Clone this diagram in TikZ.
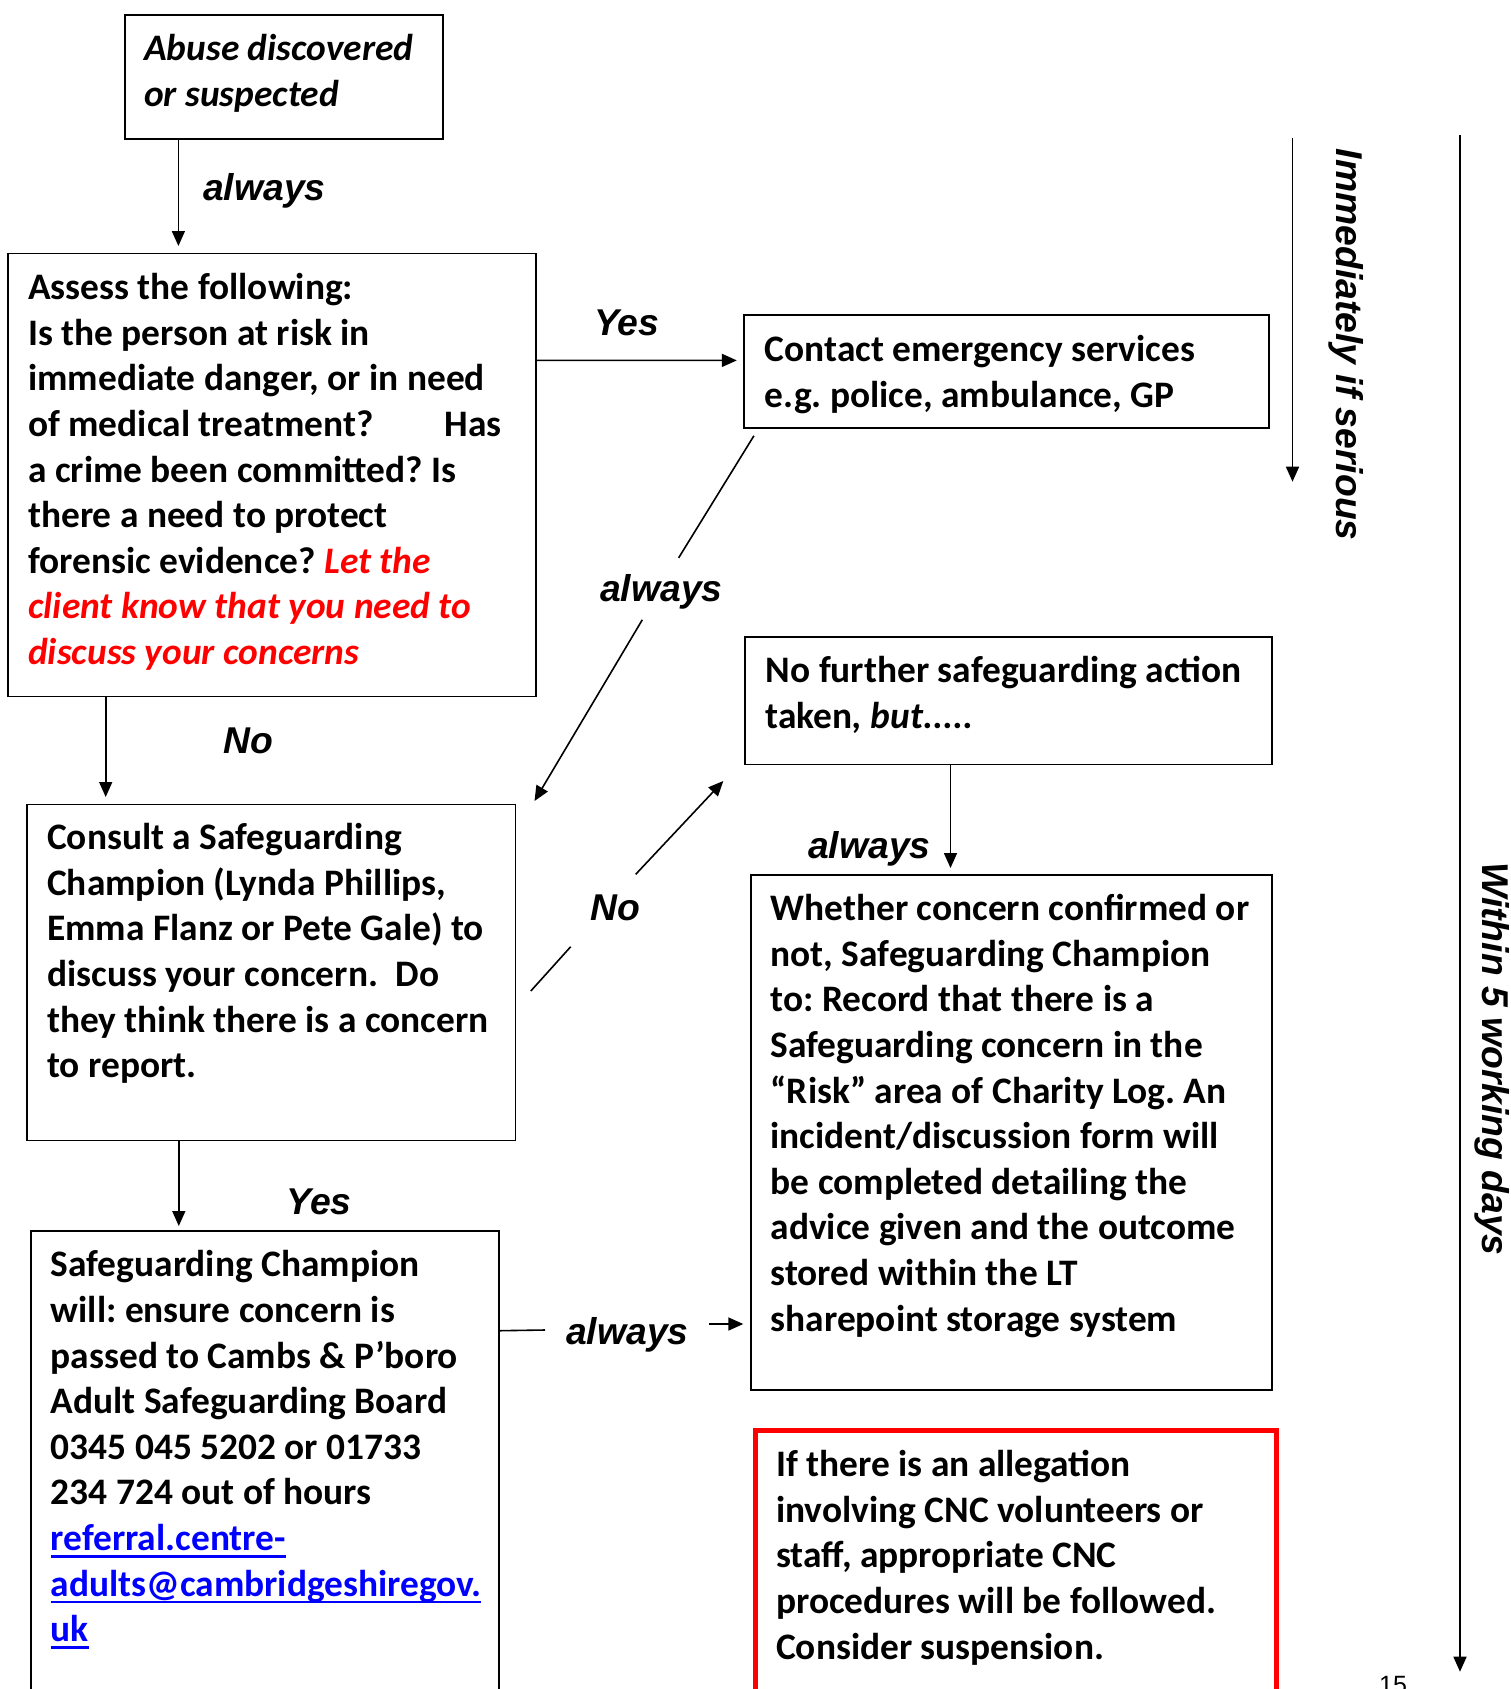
\documentclass[tikz,border=0pt]{standalone}
\usepackage{fontspec}
\setmainfont{Carlito}
\newfontfamily\arialfont{Liberation Sans}
\usetikzlibrary{arrows.meta,calc}
\frenchspacing
\newsavebox{\lnkbox}
\newcommand{\lnk}[1]{\sbox{\lnkbox}{\color{blue}#1}{\color{blue}\rlap{\rule[-7.2pt]{\wd\lnkbox}{2.6pt}}}\usebox{\lnkbox}}
\begin{document}
\begin{tikzpicture}[x=1pt,y=-1pt,
  box/.style={draw=black, line width=1.8pt, inner sep=0pt, anchor=north west},
  redbox/.style={box, draw=red, line width=5pt},
  txt/.style={inner sep=0pt, anchor=north west, align=left, font=\fontsize{37.4}{45.6}\selectfont\bfseries},
  lab/.style={inner sep=0pt, anchor=base west, font=\arialfont\fontsize{37.3}{44}\selectfont\bfseries\itshape},
  conn/.style={line width=1.6pt, draw=black},
  arr/.style={conn, -{Triangle[length=15pt,width=13pt]}}]
\useasboundingbox (0,0) rectangle (1510,1689);
\clip (0,0) rectangle (1510,1689);
\fill[white] (0,0) rectangle (1510,1689);

% boxes
\node[box, minimum width=318pt, minimum height=123.9pt] (abuse) at (124.1,13.8) {};
\node[box, minimum width=527.4pt, minimum height=443.1pt] (assess) at (7.3,252.5) {};
\node[box, minimum width=525.3pt, minimum height=112.9pt] (contact) at (742.9,314.3) {};
\node[box, minimum width=526.9pt, minimum height=127.9pt] (nofurther) at (743.9,635.7) {};
\node[box, minimum width=488.8pt, minimum height=336pt] (consult) at (25.7,803.5) {};
\node[box, minimum width=521pt, minimum height=515.2pt] (whether) at (749.8,874) {};
\node[box, minimum width=468.4pt, minimum height=500pt] (champion) at (30,1230) {};
\node[redbox, minimum width=521.5pt, minimum height=300pt] (allegation) at (752.8,1428) {};

% texts
\node[txt, font=\fontsize{37.4}{46}\selectfont\bfseries\itshape] (abuse-t) at (144,28.1) {\strut Abuse discovered\\or suspected};
\node[txt] (assess-t) at (28,267.5) {\strut Assess the following:\\
Is the person at risk in\\
immediate danger, or in need\\
of medical treatment?\hspace{71pt}Has\\
a crime been committed? Is\\
there a need to protect\\
forensic evidence? {\color{red}\itshape Let the}\\
{\color{red}\itshape client know that you need to}\\
{\color{red}\itshape discuss your concerns}};
\node[txt, font=\fontsize{37.4}{46}\selectfont\bfseries] (contact-t) at (764.6,329.1) {\strut Contact emergency services\\e.g. police, ambulance, GP};
\node[txt, font=\fontsize{37.4}{45.5}\selectfont\bfseries] (nofurther-t) at (765.6,650.6) {\strut No further safeguarding action\\taken{\itshape, but.....}};
\node[txt] (consult-t) at (47,817.6) {\strut Consult a Safeguarding\\
Champion (Lynda Phillips,\\
Emma Flanz or Pete Gale) to\\
discuss your concern.\hspace{17.5pt}Do\\
they think there is a concern\\
to report.};
\node[txt] (whether-t) at (770.5,888.6) {\strut Whether concern confirmed or\\
not, Safeguarding Champion\\
to: Record that there is a\\
Safeguarding concern in the\\
“Risk” area of Charity Log. An\\
incident/discussion form will\\
be completed detailing the\\
advice given and the outcome\\
stored within the LT\\
sharepoint storage system};
\node[txt] (champion-t) at (50.6,1244.8) {\strut Safeguarding Champion\\
will: ensure concern is\\
passed to Cambs \& P’boro\\
Adult Safeguarding Board\\
0345 045 5202 or 01733\\
234 724 out of hours\\
\lnk{referral.centre-}\\
\lnk{adults@cambridgeshiregov.}\\
\lnk{uk}};
\node[txt] (allegation-t) at (776,1444.6) {\strut If there is an allegation\\
involving CNC volunteers or\\
staff, appropriate CNC\\
procedures will be followed.\\
Consider suspension.};

% labels
\node[lab] (l-always1) at (203,200) {always};
\node[lab] (l-yes1) at (594,335) {Yes};
\node[lab] (l-always2) at (600,601.5) {always};
\node[lab] (l-no1) at (223,753) {No};
\node[lab] (l-no2) at (590,920.7) {No};
\node[lab] (l-always3) at (808,858.4) {always};
\node[lab] (l-yes2) at (286.5,1214) {Yes};
\node[lab] (l-always4) at (566,1344) {always};
\node[lab, rotate=-90] (l-imm) at (1336.5,148.6) {Immediately if serious};
\node[lab, rotate=-90] (l-within) at (1482,862) {Within 5 working days};
\node[inner sep=0pt, anchor=base west, font=\arialfont\fontsize{25}{30}\selectfont] (pagenum) at (1379,1693) {15};

% connectors
\draw[arr] ($(abuse.south west)+(54.3,0)$) -- ($(assess.north west)+(171.1,-6.5)$);
\draw[arr] ($(assess.north east)+(0,107.9)$) -- ($(contact.north west)+(-6.1,46.1)$);
\draw[arr] ($(assess.south west)+(98.4,0)$) -- ($(consult.north west)+(80,-6.5)$);

\coordinate (aS) at ($(contact.south west)+(11,6.8)$);
\coordinate (aA) at (678.6,557.9);
\coordinate (aB) at (642.3,619.8);
\coordinate (aT) at ($(consult.north east)+(18.2,-2.5)$);
\draw[conn] (aS) -- (aA);
\draw[arr] (aB) -- (aT);

\coordinate (nS) at ($(consult.north east)+(14.5,187.5)$);
\coordinate (nA) at (570.7,946.7);
\coordinate (nB) at (635.7,874.3);
\coordinate (nT) at ($(nofurther.south west)+(-20.6,15.6)$);
\draw[conn] (nS) -- (nA);
\draw[arr] (nB) -- (nT);

\draw[arr] ($(consult.south west)+(153.1,0)$) -- ($(champion.north west)+(148.8,-4)$);
\draw[arr] ($(nofurther.south west)+(206.6,0)$) -- ($(whether.north west)+(200.7,-6)$);

\coordinate (cwA) at (545,1330);
\coordinate (cwB) at (709.3,1324);
\draw[conn] ($(champion.north east)+(0,100.7)$) -- (cwA);
\draw[arr] (cwB) -- ($(whether.north west)+(-6.5,450)$);

\coordinate (immtop) at (1292.5,138);
\coordinate (immbot) at (1292.5,481.7);
\draw[arr] (immtop) -- (immbot);
\coordinate (withintop) at (1460,134.8);
\coordinate (withinbot) at (1460,1671.7);
\draw[arr] (withintop) -- (withinbot);
\end{tikzpicture}
\end{document}
